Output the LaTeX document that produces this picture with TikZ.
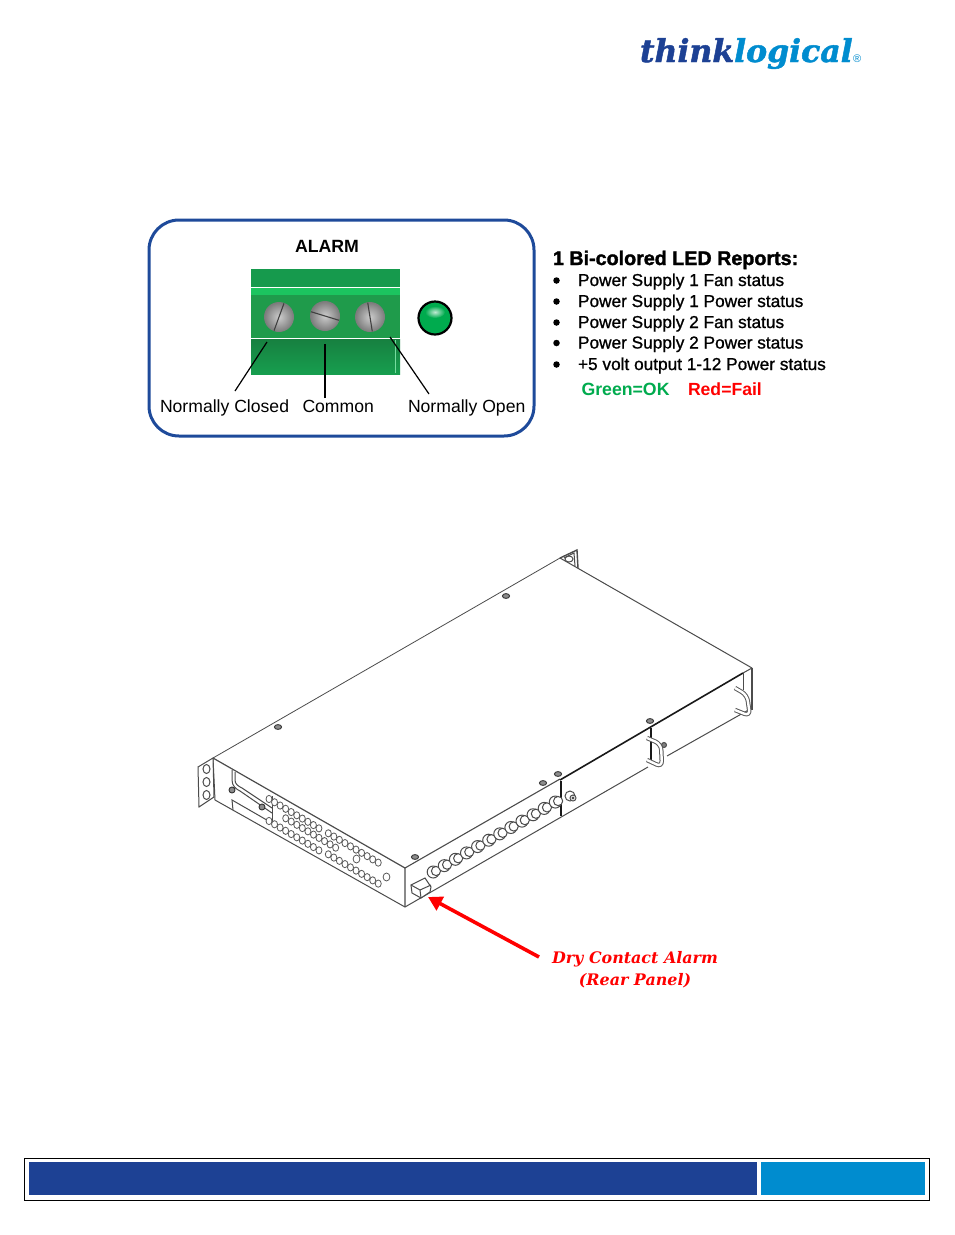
\documentclass[tikz,border=0pt]{standalone}
\usepackage{fontspec}
\usetikzlibrary{arrows.meta}
\setmainfont{Liberation Sans}
\newfontfamily\listfont[FakeBold=1]{Liberation Sans}
\newfontfamily\headfont[FakeBold=1.6]{Liberation Sans Bold}
\newfontfamily\calloutfont{DejaVu Serif}
\newfontfamily\logofont[FakeBold=1.5]{DejaVu Serif Bold Italic}
\definecolor{tlnavy}{HTML}{1D4194}
\definecolor{tlblue}{HTML}{008CCF}
\definecolor{boxblue}{HTML}{1E4A9A}
\definecolor{termdark}{HTML}{169A4D}
\definecolor{termlight}{HTML}{1CC45F}
\definecolor{termmid}{HTML}{1F9B4B}
\definecolor{termdeep}{HTML}{178040}
\definecolor{ledgreen}{HTML}{00AB4E}
\begin{document}
\begin{tikzpicture}[
  x=1pt, y=-1pt,
  every node/.style={inner sep=0pt, outer sep=0pt},
  alarmbox/.style={draw=boxblue, line width=3pt, rounded corners=30pt, minimum width=385pt, minimum height=216pt},
  plaintext/.style={font=\fontsize{17.6}{20}\selectfont, anchor=base west},
  listtext/.style={font=\listfont\fontsize{17.25}{20}\selectfont, anchor=base west},
  leader/.style={draw=black, line width=1.2pt},
  chassis/.style={draw=black!70, line width=1pt},
  heavyline/.style={draw=black!90, line width=1.6pt},
  venthole/.style={draw=black!65, fill=white, line width=.8pt},
  bolthead/.style={draw=black!80, fill=black!45, line width=.9pt},
  handlebar/.style={draw=black!65, double=white, double distance=2.4pt, line width=1pt, rounded corners=6pt},
  calltext/.style={font=\calloutfont\bfseries\itshape\fontsize{15.9}{22}\selectfont, text=red, anchor=base},
]
\useasboundingbox (0,0) rectangle (954,1235);
\fill[white] (0,0) rectangle (954,1235);

\node[font=\logofont\fontsize{31.5}{36}\selectfont, anchor=base west, text=tlnavy] (logothink) at (640,62) {think};
\node[font=\logofont\fontsize{31.5}{36}\selectfont, anchor=base west, text=tlblue] (logological) at (logothink.base east) {logical};
\node[font=\fontsize{11}{12}\selectfont, anchor=base west, text=tlblue] (logomark) at (853,62) {®};

\node[alarmbox] (alarmbox) at (341.5,328) {};
\node[font=\bfseries\fontsize{17.7}{20}\selectfont, anchor=base] (alarmtitle) at (327,252) {ALARM};

\fill[termdark] (251,269) rectangle (400,287);
\fill[termlight] (251,288) rectangle (400,295);
\fill[termmid] (251,295) rectangle (400,338);
\shade[top color=termdeep, bottom color=termdark!90!termlight] (251,339) rectangle (400,374);
\draw[white, line width=.8pt] (251,287.5) -- (400,287.5);
\draw[white, line width=.8pt] (251,338.5) -- (400,338.5);
\draw[termlight!60!white, line width=.5pt] (395.5,340) -- (395.5,373);

\foreach \name/\x/\y/\ang in {a/279/317/20, b/325/316/-73, c/370/317/-9} {
  \node[circle, minimum size=30pt, shade, inner color=black!20, outer color=black!52] (screw\name) at (\x,\y) {};
  \draw[black!75, line width=1.1pt] (screw\name.center) ++(270+\ang:14.5) -- ++(90+\ang:29);
}
\node[circle, draw=black, line width=2.2pt, minimum size=33pt, fill=ledgreen] (led) at (435,318) {};
\shade[inner color=white!75!ledgreen, outer color=ledgreen] (435,312) ellipse (10 and 6);

\node[plaintext] (nclabel) at (160,412) {Normally Closed};
\node[plaintext] (comlabel) at (302.5,412) {Common};
\node[plaintext] (nolabel) at (408,412) {Normally Open};
\coordinate (ncfree) at (235,391);
\coordinate (ncend) at (267,342);
\coordinate (comfree) at (325,398);
\coordinate (comend) at (325,344);
\coordinate (nofree) at (429,394);
\coordinate (noend) at (390,337);
\draw[leader] (ncfree) -- (ncend);
\draw[leader] (comfree) -- (comend);
\draw[leader] (nofree) -- (noend);

\node[font=\headfont\fontsize{19.7}{22}\selectfont, anchor=base west] (reporthead) at (553,265) {1 Bi-colored LED Reports:};
\foreach \name/\y/\txt in {a/286/Power Supply 1 Fan status, b/307/Power Supply 1 Power status, c/328/Power Supply 2 Fan status, d/348.5/Power Supply 2 Power status, e/370/+5 volt output 1-12 Power status} {
  \node[circle, fill=black, minimum size=6.5pt] (bullet\name) at (556.5,\y-5.5) {};
  \node[listtext] (report\name) at (578,\y) {\txt};
}
\node[font=\bfseries\fontsize{17.7}{20}\selectfont, anchor=base west, text=ledgreen] (oklabel) at (581.5,395) {Green=OK};
\node[font=\bfseries\fontsize{17.6}{20}\selectfont, anchor=base west, text=red] (faillabel) at (688,395) {Red=Fail};

% chassis
\draw[chassis, line width=.8pt] (213,758) -- (560,558);
\draw[chassis] (560,558) -- (752,668);
\draw[chassis, line width=1.2pt] (213,758) -- (405,868) -- (405,907);
\draw[chassis] (213,758) -- (215,800) -- (405,907);
\draw[chassis, fill=white] (198,767) -- (213,758) -- (214,797) -- (199,807) -- cycle;
\foreach \y in {769,782,795} {
  \draw[chassis] (206.5,\y) ellipse (3.5 and 4.5);
}
\draw[chassis] (232,770) -- (232,780) .. controls (232,786) and (236,789) .. (240,791) -- (272,813);
\draw[chassis] (235,772) -- (235,780) .. controls (235,784) and (238,786) .. (242,788) -- (272,808);
\draw[chassis] (233,810) -- (232,800) -- (272,823);
\draw[chassis] (272,796) -- (272,826);
\draw[chassis, line width=1.4pt] (560,558) -- (577,550) -- (578,568);
\draw[chassis] (564,558) -- (574,553) -- (575,566);
\draw[chassis] (569,559) ellipse (4 and 3);

\foreach \name/\sx/\sy in {a/269/799, b/285.7/818.3, c/269/821, d/328.3/833.3, e/328.3/854.3} {
  \foreach \n in {0,...,9} {
    \draw[venthole] (\sx+5.55*\n,\sy+3.26*\n) ellipse (3 and 3.6);
  }
}
\draw[venthole] (356.5,859) ellipse (3.4 and 4);
\draw[venthole] (386.5,877) ellipse (3.4 and 4);

\draw[chassis] (405,907) -- (648,767);
\draw[chassis] (667,756) -- (752,708);
\draw[chassis, line width=1.1pt] (405,868) -- (560,779);
\draw[heavyline] (560,780) -- (743,673);
\draw[heavyline] (561,781) -- (561,816);
\draw[heavyline] (651,728) -- (651,762);
\draw[chassis] (743,673) -- (743,690);
\draw[chassis, line width=1.8pt] (752,668) -- (752,710);
\draw[chassis] (743,673) -- (752,668);

\foreach \n in {0,...,11} {
  \draw[chassis, fill=white] (433.2+11.1*\n,872-6.36*\n) circle (6);
  \draw[chassis, fill=white] (436+11.1*\n,871-6.36*\n) circle (4.6);
}
\draw[chassis, fill=white] (570,796) ellipse (5 and 5);
\draw[chassis, fill=white] (573,798) circle (3);
\draw[chassis] (573,798) circle (1);

\draw[handlebar] (735,688) -- (747,695) -- (750,716) -- (735,710);
\draw[chassis, fill=black!50] (664,745) circle (2.5);
\draw[handlebar] (647,738) -- (661,744) -- (662,767) -- (647,760);

\foreach \x/\y in {506/596, 278/727, 650/721, 543/783, 558/774, 415/857} {
  \draw[bolthead] (\x,\y) ellipse (3.6 and 2.4);
}
\foreach \x/\y in {232/790, 262/807} {
  \draw[bolthead] (\x,\y) circle (3);
}

\draw[chassis, fill=white] (411,885) -- (425,878) -- (431,887) -- (430,892) -- (421,898) -- (412,893) -- cycle;
\draw[chassis] (411,885) -- (420,890) -- (431,885);
\draw[chassis] (420,890) -- (421,898);

\coordinate (arrowfree) at (539,957);
\coordinate (arrowtip) at (428,897);
\draw[red, line width=3.6pt, -{Triangle[length=14pt, width=15pt]}] (arrowfree) -- (arrowtip);

\node[calltext] (dryline) at (635,963) {Dry Contact Alarm};
\node[calltext] (rearline) at (635,985) {(Rear Panel)};

\draw[black, line width=1pt] (24.5,1158) rectangle (929.5,1200);
\fill[tlnavy] (29,1162) rectangle (757,1195);
\fill[tlblue] (761,1162) rectangle (925,1195);
\end{tikzpicture}
\end{document}
